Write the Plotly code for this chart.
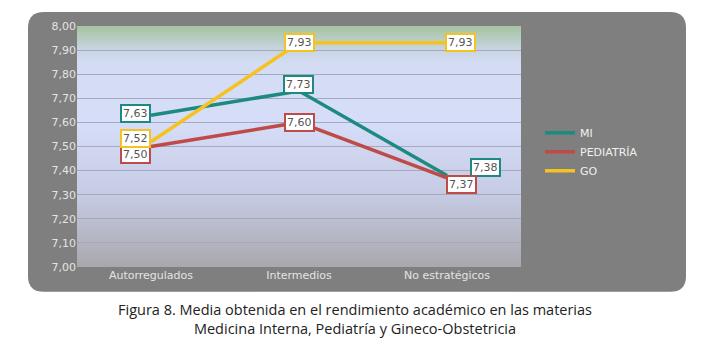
import plotly.graph_objects as go
import numpy as np

categories = ["Autorregulados", "Intermedios", "No estratégicos"]
mi = [7.63, 7.73, 7.38]
pediatria = [7.50, 7.60, 7.37]
gineco = [7.52, 7.93, 7.93]
series_names = ["MI", "PEDIATRÍA", "GO"]
y_ticks = [7.0, 7.1, 7.2, 7.3, 7.4, 7.5, 7.6, 7.7, 7.8, 7.9, 8.0]

colors = {"MI": "#1d8a80", "PEDIATRÍA": "#bf4b48", "GO": "#f6c21f"}
# label offsets (px) per series, per category
offsets = {
    "MI": [(-16, 2), (-1, 7), (38, 8)],
    "PEDIATRÍA": [(-16, -8), (0, 0), (14, -7)],
    "GO": [(-16, 3), (0, 0), (13, 0)],
}

# page body adds 8px offset; compensate
OFF = 8
W, H = 718, 345
pw, ph = 444, 243
L, T = 77 - OFF, 24 - OFF
R, B = W - L - pw, H - T - ph

def px2paper(x, y):
    # x, y in screenshot pixels
    return (x - OFF - L) / pw, (T + ph - (y - OFF)) / ph

fig = go.Figure()
for name, vals in zip(series_names, [mi, pediatria, gineco]):
    fig.add_trace(go.Scatter(x=categories, y=vals, name=name, mode="lines",
                             line=dict(color=colors[name], width=3.5)))

shapes = []
x0, y0 = px2paper(28, 292)
x1, y1 = px2paper(686, 10)
r = 16
rx, ry = r / pw, r / ph
path = (f"M {x0+rx},{y1} L {x1-rx},{y1} Q {x1},{y1} {x1},{y1-ry} "
        f"L {x1},{y0+ry} Q {x1},{y0} {x1-rx},{y0} L {x0+rx},{y0} "
        f"Q {x0},{y0} {x0},{y0+ry} L {x0},{y1-ry} Q {x0},{y1} {x0+rx},{y1} Z")
shapes.append(dict(type="path", path=path, xref="paper", yref="paper",
                   fillcolor="#7f7f7f", line=dict(width=0), layer="below"))

# gradient background of plot area (styling only)
stops = [(7.00, (168, 168, 172)), (7.30, (198, 203, 228)), (7.60, (214, 221, 248)),
         (7.85, (212, 220, 244)), (7.90, (200, 212, 226)), (8.00, (165, 196, 160))]
sv = [s[0] for s in stops]
n = 120
edges = np.linspace(7.0, 8.0, n + 1)
for i in range(n):
    mid = (edges[i] + edges[i + 1]) / 2
    c = [int(round(np.interp(mid, sv, [s[1][k] for s in stops]))) for k in range(3)]
    shapes.append(dict(type="rect", xref="paper", yref="y", x0=0, x1=1,
                       y0=edges[i], y1=8.0, fillcolor=f"rgb({c[0]},{c[1]},{c[2]})",
                       line=dict(width=0), layer="below"))

annotations = []
for name, vals in zip(series_names, [mi, pediatria, gineco]):
    for cat, v, (dx, dy) in zip(categories, vals, offsets[name]):
        annotations.append(dict(x=cat, y=v, xref="x", yref="y",
                                text=f"{v:.2f}".replace(".", ","), showarrow=False,
                                xshift=dx, yshift=dy, bgcolor="white",
                                bordercolor=colors[name], borderwidth=2, borderpad=1,
                                font=dict(family="DejaVu Sans", size=11, color="#555555")))

cx, _ = px2paper(355, 0)
annotations.append(dict(x=cx, y=px2paper(0, 319.5)[1], xref="paper", yref="paper",
                        xanchor="center", yanchor="middle", align="center",
                        text="Figura 8. Media obtenida en el rendimiento académico en las materias"
                             "<br>Medicina Interna, Pediatría y Gineco-Obstetricia",
                        showarrow=False, font=dict(family="Open Sans", size=14.5, color="#222222")))

fig.update_layout(
    width=W, height=H, margin=dict(l=L, r=R, t=T, b=B),
    paper_bgcolor="white", plot_bgcolor="rgba(0,0,0,0)",
    separators=",.",
    shapes=shapes, annotations=annotations,
    showlegend=True,
    legend=dict(x=px2paper(540, 0)[0], y=px2paper(0, 117)[1], xanchor="left", yanchor="top",
                bgcolor="rgba(0,0,0,0)", font=dict(family="DejaVu Sans", size=11, color="#f0f0f0"),
                tracegroupgap=0, itemwidth=30),
    xaxis=dict(range=[-0.5, 2.5], showgrid=False, zeroline=False, showline=False,
               tickfont=dict(family="DejaVu Sans", size=11, color="#e4e4e4"), ticks=""),
    yaxis=dict(range=[7.0, 8.0], tickvals=y_ticks, tickformat=".2f",
               showgrid=True, gridcolor="#a6a8bc", gridwidth=1.3, zeroline=False,
               showline=False, ticks="",
               tickfont=dict(family="DejaVu Sans", size=11, color="#e4e4e4")),
)
fig.write_html("out.html")
